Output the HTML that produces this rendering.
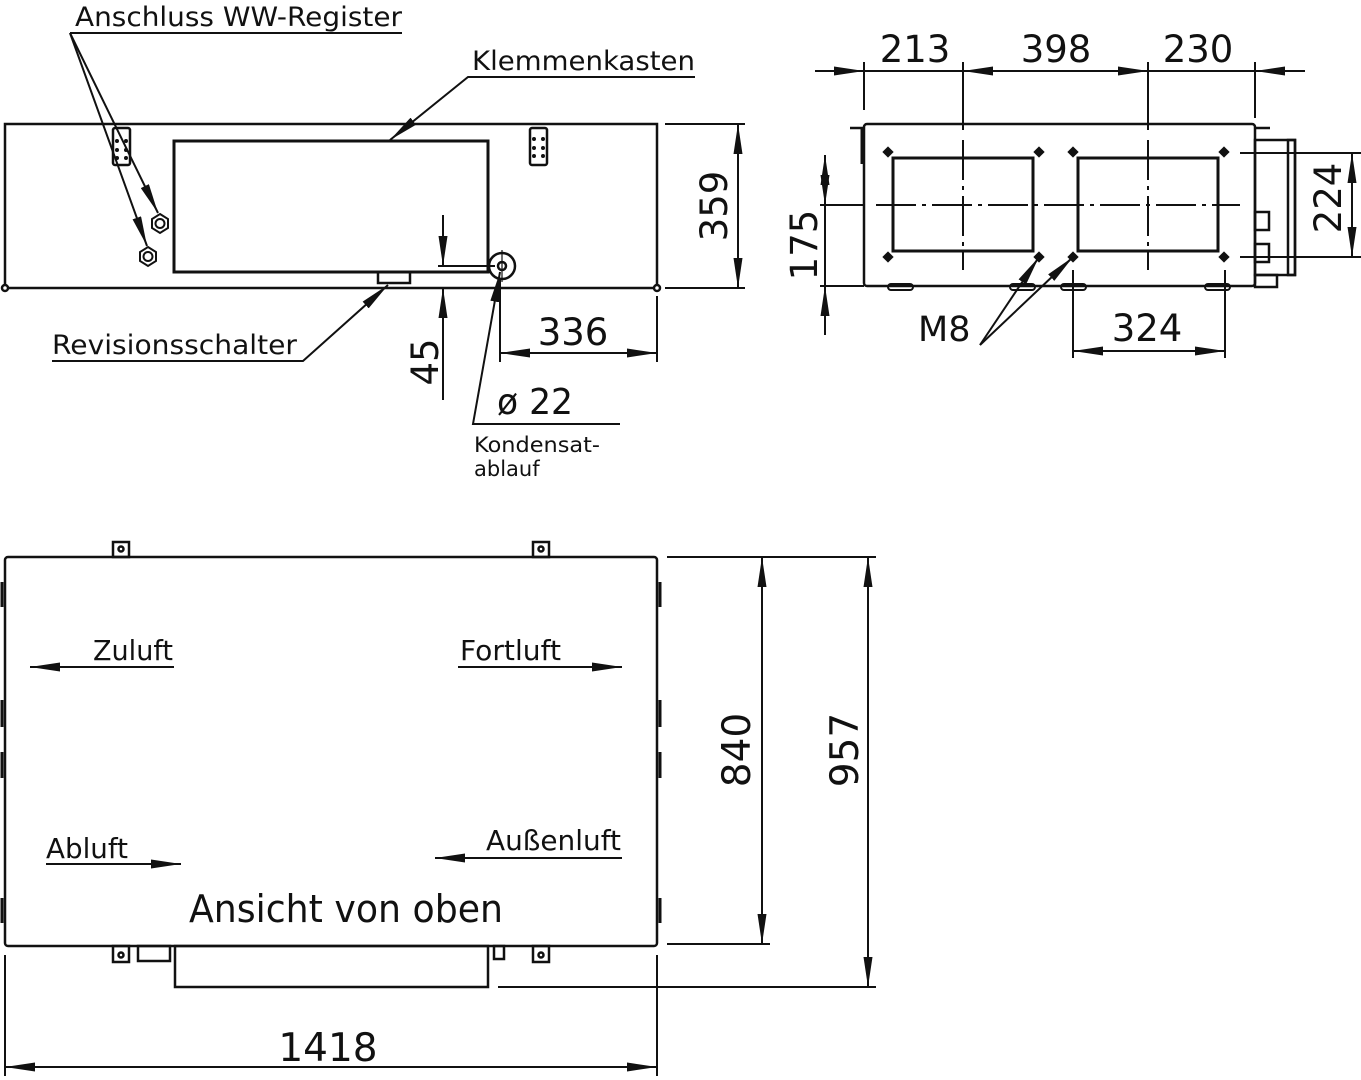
<!DOCTYPE html>
<html><head><meta charset="utf-8"><style>
html,body{margin:0;padding:0;background:#fff;}
svg{display:block;}
text{font-family:"DejaVu Sans","Liberation Sans",sans-serif;fill:#111;}
</style></head><body>
<svg width="1361" height="1080" viewBox="0 0 1361 1080" xmlns="http://www.w3.org/2000/svg">
<defs>
<marker id="a" viewBox="0 0 30 9" refX="30" refY="4.5" markerWidth="30" markerHeight="9" markerUnits="userSpaceOnUse" orient="auto-start-reverse"><path d="M0,0 L30,4.5 L0,9 Z" fill="#111"/></marker>
</defs>
<g stroke="#111" fill="none" stroke-width="2.5">
<!-- FRONT VIEW -->
<rect x="5" y="124" width="652" height="164"/>
<circle cx="5" cy="288" r="3" fill="#fff"/><circle cx="657" cy="288" r="3" fill="#fff"/>
<rect x="174" y="141" width="314" height="131" stroke-width="3"/>
<rect x="378" y="272" width="32" height="11"/>
<rect x="113" y="128" width="17" height="37" rx="2"/>
<rect x="530" y="128" width="17" height="37" rx="2"/>
<g fill="#111" stroke="none"><circle cx="117" cy="141" r="2"/><circle cx="126" cy="141" r="2"/><circle cx="117" cy="150" r="2"/><circle cx="126" cy="150" r="2"/><circle cx="117" cy="158" r="2"/><circle cx="126" cy="158" r="2"/>
<circle cx="534" cy="139" r="2"/><circle cx="543" cy="139" r="2"/><circle cx="534" cy="148" r="2"/><circle cx="543" cy="148" r="2"/><circle cx="534" cy="156" r="2"/><circle cx="543" cy="156" r="2"/></g>
<polygon points="160,214 168,219 168,228 160,233 152,228 152,219" stroke-width="2"/><circle cx="160" cy="223.5" r="4.5" stroke-width="2"/>
<polygon points="148,247 156,252 156,261 148,266 140,261 140,252" stroke-width="2"/><circle cx="148" cy="256.5" r="4.5" stroke-width="2"/>
<circle cx="502" cy="266" r="13"/><circle cx="502" cy="266" r="4"/>
<line x1="438" y1="266" x2="495" y2="266" stroke-width="2"/>
<line x1="502" y1="250" x2="502" y2="282" stroke-width="1.2"/>
<!-- leaders front -->
<polyline points="70,33 402,33" stroke-width="2"/>
<line x1="70" y1="33" x2="158" y2="213" stroke-width="2" marker-end="url(#a)"/>
<line x1="70" y1="33" x2="147" y2="246" stroke-width="2" marker-end="url(#a)"/>
<polyline points="695,77 468,77 390,140" stroke-width="2" marker-end="url(#a)"/>
<polyline points="52,361 303,361 388,285" stroke-width="2" marker-end="url(#a)"/>
<polyline points="620,424 473,424 500,272" stroke-width="2" marker-end="url(#a)"/>
<!-- dim 359 -->
<line x1="665" y1="124" x2="745" y2="124" stroke-width="2"/>
<line x1="665" y1="288" x2="745" y2="288" stroke-width="2"/>
<line x1="738" y1="124" x2="738" y2="288" stroke-width="2" marker-start="url(#a)" marker-end="url(#a)"/>
<!-- dim 45 -->
<line x1="443" y1="215" x2="443" y2="266" stroke-width="2" marker-end="url(#a)"/>
<line x1="443" y1="400" x2="443" y2="288" stroke-width="2" marker-end="url(#a)"/>
<!-- dim 336 -->
<line x1="500" y1="280" x2="500" y2="362" stroke-width="2"/>
<line x1="657" y1="296" x2="657" y2="362" stroke-width="2"/>
<line x1="500" y1="353" x2="657" y2="353" stroke-width="2" marker-start="url(#a)" marker-end="url(#a)"/>

<!-- SIDE VIEW -->
<rect x="864" y="124" width="391" height="162" rx="3"/>
<line x1="850" y1="128" x2="864" y2="128"/><line x1="862" y1="128" x2="862" y2="164" stroke-width="3"/>
<line x1="1255" y1="128" x2="1270" y2="128"/>
<rect x="893" y="158" width="140" height="93" stroke-width="3"/>
<rect x="1078" y="158" width="140" height="93" stroke-width="3"/>
<g fill="#111" stroke="none">
<rect x="884" y="148" width="8" height="8" transform="rotate(45 888 152)"/><rect x="1035" y="148" width="8" height="8" transform="rotate(45 1039 152)"/>
<rect x="1069" y="148" width="8" height="8" transform="rotate(45 1073 152)"/><rect x="1220" y="148" width="8" height="8" transform="rotate(45 1224 152)"/>
<rect x="884" y="253" width="8" height="8" transform="rotate(45 888 257)"/><rect x="1035" y="253" width="8" height="8" transform="rotate(45 1039 257)"/>
<rect x="1069" y="253" width="8" height="8" transform="rotate(45 1073 257)"/><rect x="1220" y="253" width="8" height="8" transform="rotate(45 1224 257)"/></g>
<rect x="1255" y="140" width="40" height="135"/><rect x="1288" y="140" width="7" height="135"/>
<rect x="1255" y="212" width="14" height="18"/><rect x="1255" y="244" width="14" height="18"/>
<rect x="1255" y="275" width="22" height="12"/>
<rect x="888" y="284" width="25" height="6" rx="3" stroke-width="2"/><rect x="1010" y="284" width="25" height="6" rx="3" stroke-width="2"/>
<rect x="1061" y="284" width="25" height="6" rx="3" stroke-width="2"/><rect x="1205" y="284" width="25" height="6" rx="3" stroke-width="2"/>
<g stroke-width="2" stroke-dasharray="40,6,4,6">
<line x1="876" y1="205" x2="1240" y2="205"/>
<line x1="963" y1="140" x2="963" y2="270"/>
<line x1="1148" y1="140" x2="1148" y2="270"/>
</g>
<line x1="820" y1="205" x2="864" y2="205" stroke-width="2"/>
<line x1="820" y1="286" x2="864" y2="286" stroke-width="2"/>
<line x1="825" y1="155" x2="825" y2="205" stroke-width="2" marker-start="url(#a)" marker-end="url(#a)"/>
<line x1="825" y1="286" x2="825" y2="335" stroke-width="2" marker-start="url(#a)"/>
<line x1="825" y1="205" x2="825" y2="286" stroke-width="2"/>
<!-- top dims -->
<line x1="864" y1="62" x2="864" y2="110" stroke-width="2"/>
<line x1="963" y1="62" x2="963" y2="130" stroke-width="2"/>
<line x1="1148" y1="62" x2="1148" y2="130" stroke-width="2"/>
<line x1="1255" y1="62" x2="1255" y2="118" stroke-width="2"/>
<line x1="815" y1="71" x2="864" y2="71" stroke-width="2" marker-end="url(#a)"/>
<line x1="963" y1="71" x2="1148" y2="71" stroke-width="2" marker-start="url(#a)" marker-end="url(#a)"/>
<line x1="1305" y1="71" x2="1255" y2="71" stroke-width="2" marker-end="url(#a)"/>
<line x1="864" y1="71" x2="963" y2="71" stroke-width="2"/><line x1="1148" y1="71" x2="1255" y2="71" stroke-width="2"/>
<!-- 224 -->
<line x1="1240" y1="153" x2="1361" y2="153" stroke-width="2"/>
<line x1="1240" y1="257" x2="1361" y2="257" stroke-width="2"/>
<line x1="1352" y1="153" x2="1352" y2="257" stroke-width="2" marker-start="url(#a)" marker-end="url(#a)"/>
<!-- 324 -->
<line x1="1073" y1="270" x2="1073" y2="358" stroke-width="2"/>
<line x1="1225" y1="270" x2="1225" y2="358" stroke-width="2"/>
<line x1="1073" y1="351" x2="1225" y2="351" stroke-width="2" marker-start="url(#a)" marker-end="url(#a)"/>
<!-- M8 -->
<line x1="980" y1="345" x2="1039" y2="257" stroke-width="2" marker-end="url(#a)"/>
<line x1="980" y1="345" x2="1073" y2="257" stroke-width="2" marker-end="url(#a)"/>

<!-- TOP VIEW -->
<rect x="5" y="557" width="652" height="389" rx="3"/>
<rect x="113" y="542" width="16" height="15"/><circle cx="121" cy="549" r="2.5"/>
<rect x="533" y="542" width="16" height="15"/><circle cx="541" cy="549" r="2.5"/>
<rect x="113" y="946" width="16" height="16"/><circle cx="121" cy="955" r="2.5"/>
<rect x="533" y="946" width="16" height="16"/><circle cx="541" cy="955" r="2.5"/>
<rect x="138" y="946" width="32" height="15"/>
<rect x="494" y="946" width="10" height="13"/>
<rect x="175" y="946" width="313" height="41"/>
<g stroke-width="3">
<line x1="2" y1="582" x2="2" y2="607"/><line x1="2" y1="700" x2="2" y2="727"/><line x1="2" y1="752" x2="2" y2="778"/><line x1="2" y1="898" x2="2" y2="923"/>
<line x1="660" y1="582" x2="660" y2="607"/><line x1="660" y1="700" x2="660" y2="727"/><line x1="660" y1="752" x2="660" y2="778"/><line x1="660" y1="898" x2="660" y2="923"/>
</g>
<line x1="174" y1="667" x2="30" y2="667" stroke-width="2" marker-end="url(#a)"/>
<line x1="458" y1="667" x2="622" y2="667" stroke-width="2" marker-end="url(#a)"/>
<line x1="46" y1="864" x2="181" y2="864" stroke-width="2" marker-end="url(#a)"/>
<line x1="622" y1="858" x2="435" y2="858" stroke-width="2" marker-end="url(#a)"/>
<!-- 840 -->
<line x1="667" y1="557" x2="770" y2="557" stroke-width="2"/>
<line x1="667" y1="944" x2="770" y2="944" stroke-width="2"/>
<line x1="762" y1="557" x2="762" y2="944" stroke-width="2" marker-start="url(#a)" marker-end="url(#a)"/>
<!-- 957 -->
<line x1="770" y1="557" x2="876" y2="557" stroke-width="2"/>
<line x1="498" y1="987" x2="876" y2="987" stroke-width="2"/>
<line x1="868" y1="557" x2="868" y2="987" stroke-width="2" marker-start="url(#a)" marker-end="url(#a)"/>
<!-- 1418 -->
<line x1="5" y1="955" x2="5" y2="1076" stroke-width="2"/>
<line x1="657" y1="955" x2="657" y2="1076" stroke-width="2"/>
<line x1="5" y1="1067" x2="657" y2="1067" stroke-width="2" marker-start="url(#a)" marker-end="url(#a)"/>
</g>
<g>
<text x="75" y="26" font-size="27" textLength="327" lengthAdjust="spacingAndGlyphs">Anschluss WW-Register</text>
<text x="472" y="70" font-size="27" textLength="223" lengthAdjust="spacingAndGlyphs">Klemmenkasten</text>
<text x="52" y="354" font-size="27" textLength="245" lengthAdjust="spacingAndGlyphs">Revisionsschalter</text>
<text x="474" y="452" font-size="21" textLength="126" lengthAdjust="spacingAndGlyphs">Kondensat-</text>
<text x="474" y="476" font-size="21">ablauf</text>
<text x="497" y="414" font-size="36" textLength="76" lengthAdjust="spacingAndGlyphs">ø 22</text>
<text x="573" y="345" font-size="37" text-anchor="middle">336</text>
<text transform="translate(727,206) rotate(-90)" font-size="37" text-anchor="middle">359</text>
<text transform="translate(438,362) rotate(-90)" font-size="37" text-anchor="middle">45</text>
<text x="915" y="62" font-size="37" text-anchor="middle">213</text>
<text x="1056" y="62" font-size="37" text-anchor="middle">398</text>
<text x="1198" y="62" font-size="37" text-anchor="middle">230</text>
<text transform="translate(817,245) rotate(-90)" font-size="37" text-anchor="middle">175</text>
<text transform="translate(1341,198) rotate(-90)" font-size="37" text-anchor="middle">224</text>
<text x="1147" y="341" font-size="37" text-anchor="middle">324</text>
<text x="918" y="341" font-size="35">M8</text>
<text x="93" y="660" font-size="28" textLength="80" lengthAdjust="spacingAndGlyphs">Zuluft</text>
<text x="460" y="660" font-size="28" textLength="101" lengthAdjust="spacingAndGlyphs">Fortluft</text>
<text x="46" y="858" font-size="28" textLength="82" lengthAdjust="spacingAndGlyphs">Abluft</text>
<text x="486" y="850" font-size="28" textLength="135" lengthAdjust="spacingAndGlyphs">Außenluft</text>
<text x="189" y="922" font-size="38" textLength="314" lengthAdjust="spacingAndGlyphs">Ansicht von oben</text>
<text transform="translate(750,750) rotate(-90)" font-size="39" text-anchor="middle">840</text>
<text transform="translate(858,750) rotate(-90)" font-size="39" text-anchor="middle">957</text>
<text x="328" y="1061" font-size="39" text-anchor="middle">1418</text>
</g>
</svg>
</body></html>
